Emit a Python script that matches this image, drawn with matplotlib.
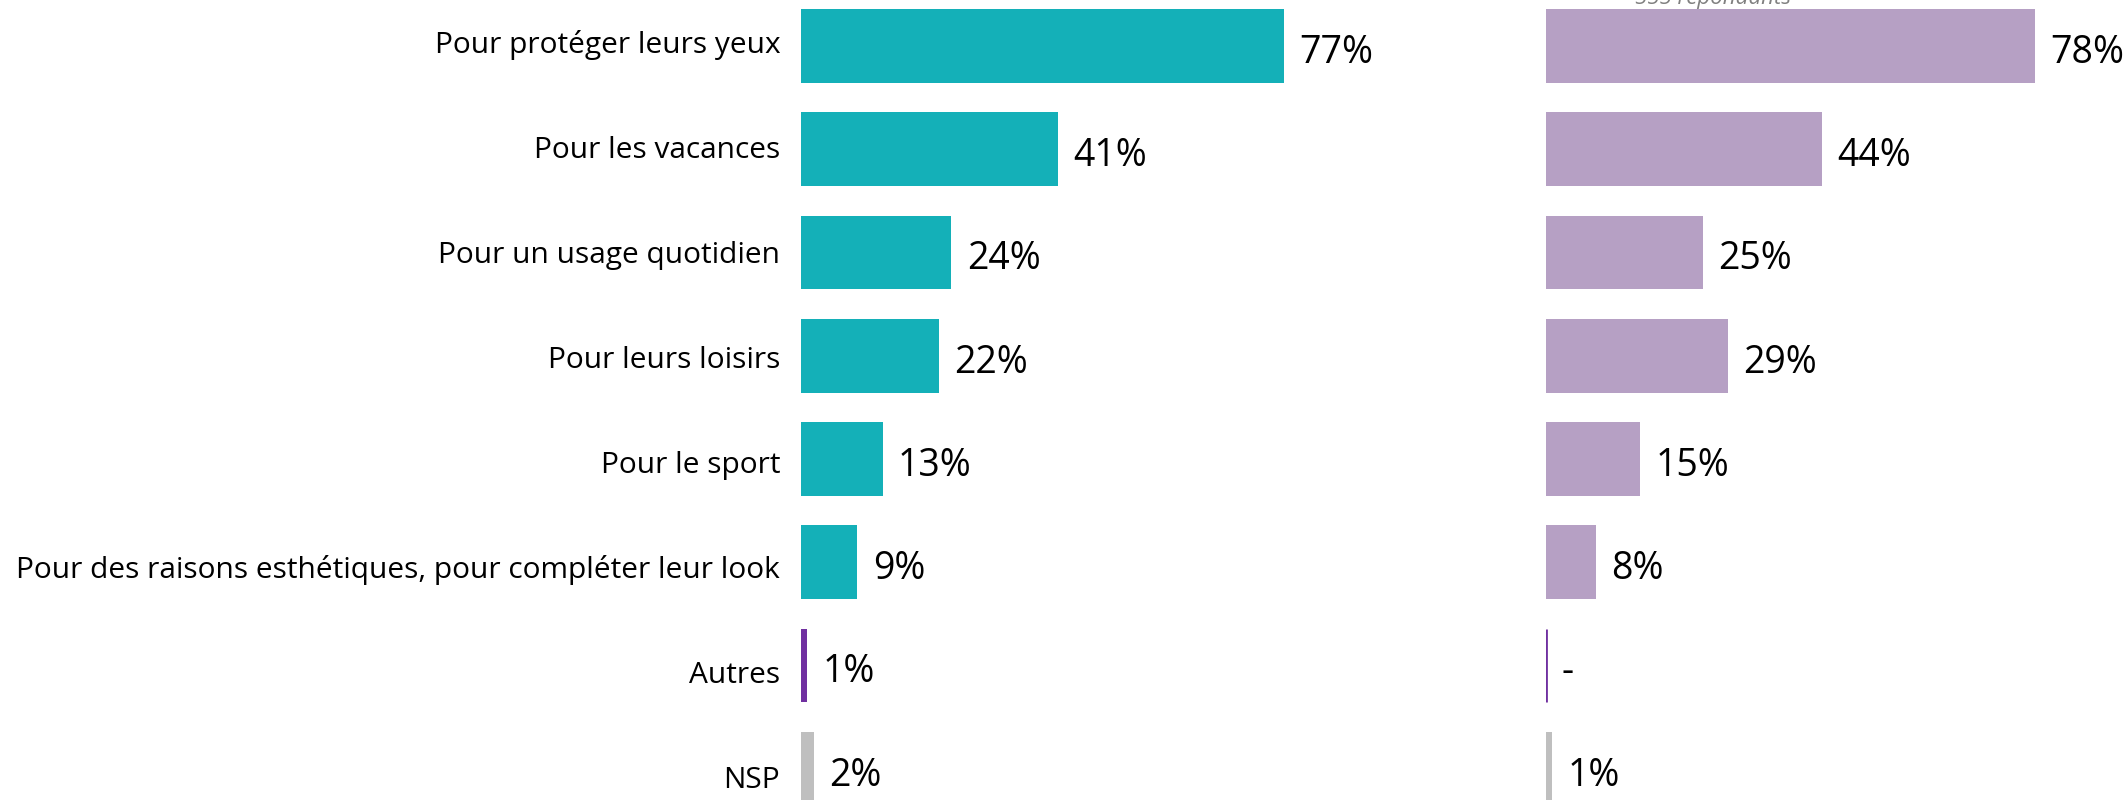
import matplotlib.pyplot as plt
import numpy as np

#data
categories = ['Pour protéger leurs yeux', 'Pour les vacances', 'Pour un usage quotidien',
              'Pour leurs loisirs', 'Pour le sport',
              'Pour des raisons esthétiques, pour compléter leur look', 'Autres', 'NSP']
left_values = [77, 41, 24, 22, 13, 9, 1, 2]
right_values = [78, 44, 25, 29, 15, 8, 0, 1]
right_note = '555 répondants'

teal = '#14B0B8'
lilac = '#B6A0C4'
purple = '#7030A0'
grey = '#BFBFBF'
left_colors = [teal] * 6 + [purple, grey]
right_colors = [lilac] * 6 + [purple, grey]

W, H = 2126, 800
plt.rcParams['font.family'] = ['Open Sans', 'DejaVu Sans']

fig = plt.figure(figsize=(W / 100, H / 100), dpi=100)

#pixel geometry
px_per_pct = 6.27
row = 103.25
first_center = 46
y_top = -first_center / row
y_bottom = (H - first_center) / row
#category labels sit on a slightly wider pitch than the bars
label_pitch = 105 / row
label_shift = -4 / row


def panel(left_px, xmax, values, colors, labels):
    ax = fig.add_axes([left_px / W, 0, xmax * px_per_pct / W, 1])
    y = np.arange(len(values))
    ax.barh(y, values, height=0.712, color=colors, edgecolor=colors,
            linewidth=[2 if v == 0 else 0 for v in values])
    for yi, v in zip(y, values):
        txt = f'{v}%' if v else '-'
        ax.annotate(txt, (v, yi), xytext=(11, -5), textcoords='offset points',
                    va='center', ha='left', fontsize=27, color='black')
    ax.set_xlim(0, xmax)
    ax.set_ylim(y_bottom, y_top)
    for s in ax.spines.values():
        s.set_visible(False)
    ax.set_xticks([])
    if labels:
        ax.set_yticks(y * label_pitch + label_shift)
        ax.set_yticklabels(labels, fontsize=21.5)
        ax.tick_params(axis='y', length=0, pad=15)
    else:
        ax.set_yticks([])
    return ax


panel(801, 100, left_values, left_colors, categories)
panel(1546, 92, right_values, right_colors, None)

fig.text(1713 / W, 1 - 4 / H, right_note, ha='center', va='baseline',
         fontsize=16, style='italic', color='#808080')

fig.savefig('out.png', dpi=100)
